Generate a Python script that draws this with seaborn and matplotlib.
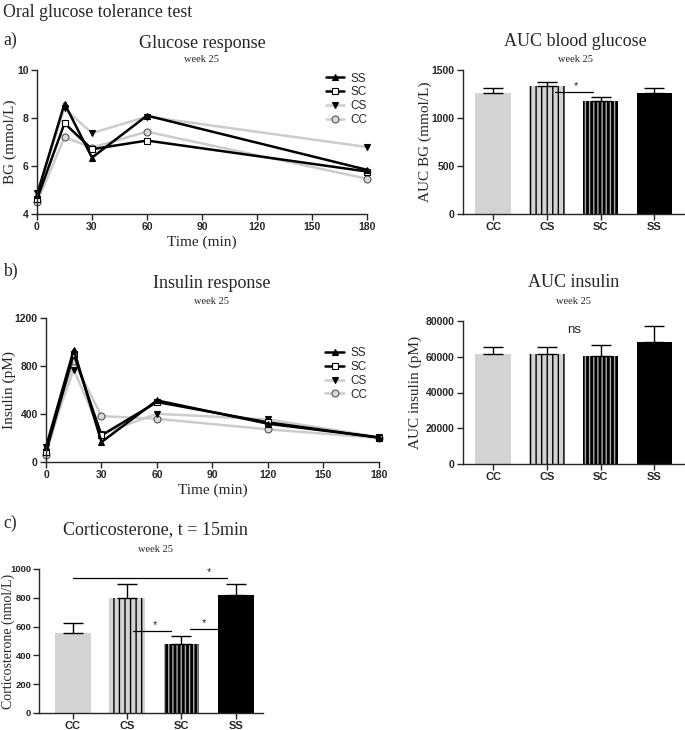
import numpy as np
import pandas as pd
import seaborn as sns
import matplotlib.pyplot as plt

# time course data
groups = ['SS', 'SC', 'CS', 'CC']
glu_time = [0, 15, 30, 60, 180]
glu_SS = [4.80, 8.60, 6.35, 8.10, 5.84]
glu_SC = [4.62, 7.78, 6.70, 7.06, 5.77]
glu_CS = [4.87, 8.40, 7.37, 8.06, 6.79]
glu_CC = [4.48, 7.20, 6.77, 7.43, 5.47]

ins_time = [0, 15, 30, 60, 120, 180]
ins_SS = [125, 935, 166, 513, 319, 205]
ins_SC = [85, 900, 222, 500, 330, 203]
ins_CS = [125, 770, 235, 402, 355, 207]
ins_CC = [61, 845, 382, 360, 272, 200]

# bar data
bar_groups = ['CC', 'CS', 'SC', 'SS']
auc_bg = [1265, 1333, 1178, 1265]
auc_bg_err = [47, 45, 37, 47]
auc_ins = [61400, 61800, 60650, 68100]
auc_ins_err = [4300, 3400, 5800, 9100]
cort = [553, 798, 477, 819]
cort_err = [75, 97, 56, 76]

serif = 'Liberation Serif'
sans = 'Liberation Sans'

sns.set_style('ticks')
plt.rcParams['font.family'] = [sans, 'DejaVu Sans']
plt.rcParams['hatch.linewidth'] = 1.0
plt.rcParams['axes.linewidth'] = 1.0

fig = plt.figure(figsize=(6.85, 7.3), dpi=100)
W, H = 685, 730


def add_ax(left, right, top, bottom):
    return fig.add_axes([left / W, 1 - bottom / H, (right - left) / W, (bottom - top) / H])


line_style = {
    'SS': dict(color='black', marker='^', mfc='black', mec='black'),
    'SC': dict(color='black', marker='s', mfc='white', mec='black'),
    'CS': dict(color='#cccccc', marker='v', mfc='black', mec='black'),
    'CC': dict(color='#cccccc', marker='o', mfc='#d9d9d9', mec='#555555'),
}


def style_ax(ax):
    sns.despine(ax=ax)
    ax.tick_params(direction='out', length=4, width=1, labelsize=7.5, pad=2)
    for lab in ax.get_xticklabels() + ax.get_yticklabels():
        lab.set_fontweight('bold')


def set_ylabel(ax, text, right_px, size=11):
    # place the label so its right edge sits at right_px (figure pixels)
    ax.set_ylabel(text, fontfamily=serif, fontsize=size)
    pos = ax.get_position()
    left = pos.x0 * W
    width = pos.width * W
    ax.yaxis.set_label_coords((right_px - left) / width, 0.5)


def time_plot(ax, t, series, ylim, yticks, ylabel, label_px, legend_xy):
    for g in ['CC', 'CS', 'SC', 'SS']:
        st = line_style[g]
        sns.lineplot(x=t, y=series[g], ax=ax, color=st['color'], lw=1.8,
                     marker=st['marker'], markerfacecolor=st['mfc'],
                     markeredgecolor=st['mec'], markersize=5, markeredgewidth=0.8,
                     label=g, clip_on=False)
    ax.set_xlim(0, 180)
    ax.set_xticks(range(0, 181, 30))
    ax.set_ylim(*ylim)
    ax.set_yticks(yticks)
    set_ylabel(ax, ylabel, label_px)
    ax.set_xlabel('Time (min)', fontfamily=serif, fontsize=11, labelpad=2)
    handles, labels = ax.get_legend_handles_labels()
    order = [labels.index(g) for g in groups]
    ax.legend([handles[i] for i in order], [labels[i] for i in order],
              loc='upper left', bbox_to_anchor=legend_xy, frameon=False,
              fontsize=8.5, handlelength=1.6, handletextpad=0.5,
              labelspacing=0.15, borderaxespad=0)
    style_ax(ax)


def bar_plot(ax, vals, errs, ylim, yticks, ylabel, label_px, xlim, size=11):
    df = pd.DataFrame({'group': bar_groups, 'val': vals})
    sns.barplot(data=df, x='group', y='val', ax=ax, width=0.66, color='#d3d3d3',
                linewidth=0, errorbar=None)
    face = ['#d3d3d3', '#d3d3d3', 'black', 'black']
    hatch_col = ['#d3d3d3', 'black', '#aaaaaa', 'black']
    hatch = [None, '|||', '||||', None]
    for p, fc, hc, h in zip(ax.patches, face, hatch_col, hatch):
        p.set_facecolor(fc)
        p.set_edgecolor(hc)
        p.set_linewidth(0)
        if h:
            p.set_hatch(h)
    ax.errorbar(range(4), vals, yerr=[[0] * 4, errs], fmt='none', ecolor='black',
                elinewidth=1, capsize=7, capthick=1, zorder=1)
    ax.set_xlim(*xlim)
    ax.set_ylim(*ylim)
    ax.set_yticks(yticks)
    ax.set_xlabel('')
    set_ylabel(ax, ylabel, label_px, size)
    style_ax(ax)
    ax.tick_params(axis='x', labelsize=8)


def sig(ax, x0, x1, y, xstar, text='*', dy=0):
    ax.plot([x0, x1], [y, y], color='black', lw=0.9, clip_on=False)
    ax.text(xstar, y + dy, text, ha='center', va='bottom', fontsize=8, fontfamily=sans)


# panel a
ax1 = add_ax(37, 367, 70, 214)
time_plot(ax1, glu_time, {'SS': glu_SS, 'SC': glu_SC, 'CS': glu_CS, 'CC': glu_CC},
          (4, 10), [4, 6, 8, 10], 'BG (mmol/L)', 17, (0.86, 1.015))

ax2 = add_ax(463, 684, 70, 214)
bar_plot(ax2, auc_bg, auc_bg_err, (0, 1500), [0, 500, 1000, 1500],
         'AUC BG (mmol/L)', 432, (-0.56, 3.55))
sig(ax2, 1.16, 1.86, 1268, 1.55, dy=15)

# panel b
ax3 = add_ax(46, 379, 318, 462)
time_plot(ax3, ins_time, {'SS': ins_SS, 'SC': ins_SC, 'CS': ins_CS, 'CC': ins_CC},
          (0, 1200), [0, 400, 800, 1200], 'Insulin (pM)', 16, (0.825, 0.83))

ax4 = add_ax(463, 684, 321, 464)
bar_plot(ax4, auc_ins, auc_ins_err, (0, 80000), [0, 20000, 40000, 60000, 80000],
         'AUC insulin (pM)', 422, (-0.56, 3.55))
ax4.text(1.5, 78500, 'ns', ha='center', va='top', fontsize=9.5, fontfamily=sans)

# panel c
ax5 = add_ax(39, 263, 569, 713)
bar_plot(ax5, cort, cort_err, (0, 1000), [0, 200, 400, 600, 800, 1000],
         'Corticosterone (nmol/L)', 15, (-0.62, 3.5), size=10)
ax5.tick_params(axis='y', labelsize=6.8, pad=1.5)
sig(ax5, 0.0, 2.83, 935, 2.51, dy=8)
sig(ax5, 1.11, 1.81, 568, 1.51, dy=8)
sig(ax5, 2.15, 2.67, 582, 2.42, dy=8)

# titles and panel letters
fig.text(3 / W, 1 - 17 / H, 'Oral glucose tolerance test', fontfamily=serif, fontsize=12.8,
         va='baseline')
for letter, y in [('a)', 45), ('b)', 276), ('c)', 528)]:
    fig.text(3 / W, 1 - y / H, letter, fontfamily=serif, fontsize=12.8, va='baseline')

titles = [('Glucose response', 202, 44, 60), ('AUC blood glucose', 575, 42, 59),
          ('Insulin response', 212, 283, 301), ('AUC insulin', 574, 282, 301),
          ('Corticosterone, t = 15min', 155, 530, 550)]
for t, x, y, wy in titles:
    fig.text(x / W, 1 - y / H, t, fontfamily=serif, fontsize=13, ha='center', va='center')
    fig.text(x / W, 1 - wy / H, 'week 25', fontfamily=serif, fontsize=7.5, ha='center',
             va='center')

fig.savefig('out.png', dpi=100)
